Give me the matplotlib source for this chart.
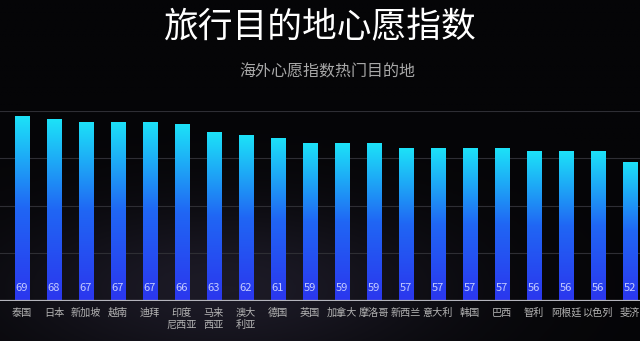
import numpy as np
import matplotlib
matplotlib.use("Agg")
import matplotlib.pyplot as plt
from matplotlib.colors import LinearSegmentedColormap

plt.rcParams['font.family'] = ['Noto Sans CJK SC', 'DejaVu Sans']

countries = ["泰国", "日本", "新加坡", "越南", "迪拜", "印度\n尼西亚", "马来\n西亚", "澳大\n利亚",
             "德国", "英国", "加拿大", "摩洛哥", "新西兰", "意大利", "韩国", "巴西",
             "智利", "阿根廷", "以色列", "斐济"]
scores = [69, 68, 67, 67, 67, 66, 63, 62, 61, 59, 59, 59, 57, 57, 57, 57, 56, 56, 56, 52]

title = "旅行目的地心愿指数"
subtitle = "海外心愿指数热门目的地"

bg = "#050507"
fig = plt.figure(figsize=(6.4, 3.41), dpi=100, facecolor=bg)

# faint haze behind the bars
bga = fig.add_axes([0, 0, 1, 1], zorder=0)
bga.set_axis_off()
yy, xx = np.mgrid[0:1:200j, 0:1:400j]
haze = np.exp(-(((xx - 0.35) / 0.35) ** 2 + ((yy - 0.15) / 0.25) ** 2))
haze_cmap = LinearSegmentedColormap.from_list("haze", [bg, "#1c1a26"])
bga.imshow(haze, cmap=haze_cmap, extent=[0, 1, 0, 1], origin="lower", aspect="auto")
bga.set_xlim(0, 1)
bga.set_ylim(0, 1)

ax = fig.add_axes([0, 0.1173, 1, 0.5572], zorder=1)
ax.patch.set_alpha(0)
ax.set_xlim(-0.6875, 19.3125)
ax.set_ylim(0, 71)

grid_y = np.linspace(0, 71, 5)[1:]
for gy in grid_y:
    ax.axhline(gy, color="#2e2e34", lw=0.8, zorder=1)

cmap = LinearSegmentedColormap.from_list("bar", ["#2b36ee", "#2066f4", "#1ce2f8"])
grad = np.linspace(0, 1, 256).reshape(-1, 1)
x = np.arange(len(scores))
width = 0.44
bars = ax.bar(x, scores, width=width, color="none", zorder=2)
for xi, v, b in zip(x, scores, bars):
    im = ax.imshow(grad, cmap=cmap, origin="lower", aspect="auto",
                   extent=[xi - width / 2, xi + width / 2, 0, v], zorder=2)
    im.set_clip_path(b)
    ax.text(xi, 4.9, str(v), ha="center", va="center", color="#c4cbff",
            fontsize=8, zorder=3)

ax.axhline(0, color="#b4b4bc", lw=1.6, zorder=4)

ax.set_xticks(x)
ax.set_xticklabels(countries, color="#b4b4b4", fontsize=7.3, linespacing=1.2)
ax.tick_params(axis="x", length=0, pad=5)
ax.set_yticks([])
for s in ax.spines.values():
    s.set_visible(False)

fig.text(0.5, 0.918, title, ha="center", va="center", color="white", fontsize=25)
fig.text(0.512, 0.789, subtitle, ha="center", va="center", color="#a8a8a8", fontsize=11.5)

fig.savefig("out.png", dpi=100, facecolor=bg)
